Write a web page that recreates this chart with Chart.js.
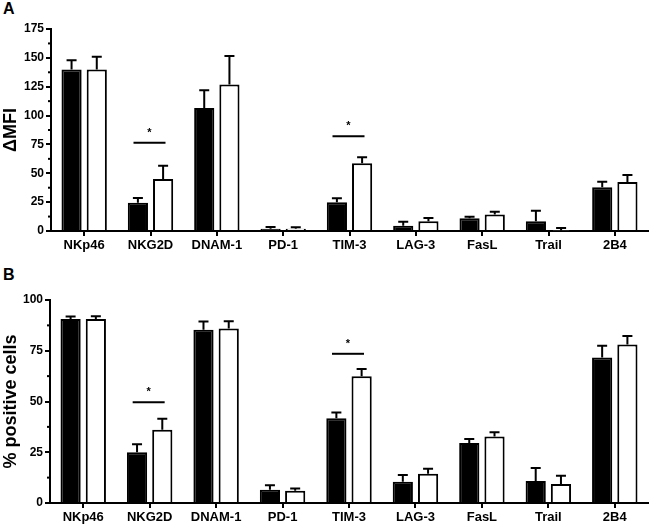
<!DOCTYPE html>
<html><head><meta charset="utf-8">
<script src="https://cdn.jsdelivr.net/npm/chart.js@4.4.0/dist/chart.umd.min.js"></script>
<style>
html,body{margin:0;padding:0;background:#fff;width:650px;height:528px;overflow:hidden;}
.wrap{position:absolute;left:0;width:650px;}
.lbl{position:absolute;left:3px;font:bold 16px "Liberation Sans",Arial,sans-serif;color:#000;}
</style></head><body>
<div class="lbl" style="top:0px">A</div>
<div class="lbl" style="top:266px">B</div>
<div class="wrap" style="top:0;height:258px"><canvas id="cA" width="650" height="258"></canvas></div>
<div class="wrap" style="top:258px;height:270px"><canvas id="cB" width="650" height="270"></canvas></div>
<script>
const categories = ['NKp46','NKG2D','DNAM-1','PD-1','TIM-3','LAG-3','FasL','Trail','2B4'];

// Panel A: ΔMFI
const mfiBlack    = [140, 24.5, 106.5, 2, 24.8, 4.6, 11, 8.4, 38];
const mfiBlackErr = [8, 4, 15.5, 1.5, 3.5, 3.4, 1.4, 9.2, 4.7];
const mfiWhite    = [140, 45, 127, 2, 58.6, 8.4, 14.4, 0.5, 42.5];
const mfiWhiteErr = [11, 11.6, 24.6, 1.2, 5.2, 2.9, 2.3, 2.1, 6];
const mfiTicks    = [0, 25, 50, 75, 100, 125, 150, 175];
const mfiSigCats  = ['NKG2D','TIM-3'];
const mfiSigLine  = [76.5, 82];

// Panel B: % positive cells
const posBlack    = [90.6, 25, 85.4, 6.5, 41.7, 10.5, 29.6, 10.8, 71.7];
const posBlackErr = [1.3, 4, 4, 2.2, 2.9, 3.3, 1.9, 6.4, 5.8];
const posWhite    = [90.6, 36.1, 85.9, 6, 62.4, 14.4, 32.8, 9.4, 78.1];
const posWhiteErr = [1.4, 5.4, 3.6, 1.2, 3.6, 2.5, 2, 4, 4.2];
const posTicks    = [0, 25, 50, 75, 100];
const posSigCats  = ['NKG2D','TIM-3'];
const posSigLine  = [49.6, 73.5];

const FONT = '"Liberation Sans", Arial, sans-serif';

const errPlugin = {
  id: 'errbars',
  afterDatasetsDraw(chart, args, opts) {
    const ctx = chart.ctx, y = chart.scales.y;
    ctx.save();
    ctx.strokeStyle = '#000'; ctx.lineWidth = 2;
    chart.data.datasets.forEach((ds, di) => {
      const meta = chart.getDatasetMeta(di);
      meta.data.forEach((bar, i) => {
        const top = y.getPixelForValue(ds.data[i]);
        const e = y.getPixelForValue(ds.data[i] + ds.err[i]);
        ctx.beginPath();
        ctx.moveTo(bar.x, top); ctx.lineTo(bar.x, e);
        ctx.moveTo(bar.x - 5, e); ctx.lineTo(bar.x + 5, e);
        ctx.stroke();
      });
    });
    ctx.restore();
  }
};

const sigPlugin = {
  id: 'sig',
  afterDraw(chart, args, opts) {
    const ctx = chart.ctx, x = chart.scales.x, y = chart.scales.y;
    ctx.save();
    ctx.strokeStyle = '#000'; ctx.lineWidth = 2; ctx.fillStyle = '#000';
    ctx.font = 'bold 11px ' + FONT; ctx.textAlign = 'center'; ctx.textBaseline = 'middle';
    opts.cats.forEach((c, k) => {
      const cx = x.getPixelForValue(categories.indexOf(c));
      const py = y.getPixelForValue(opts.vals[k]);
      ctx.beginPath(); ctx.moveTo(cx - 17, py); ctx.lineTo(cx + 15, py); ctx.stroke();
      ctx.fillText('*', cx - 1, py - 10);
    });
    // minor ticks on y axis
    const t = y.ticks;
    for (let i = 0; i < t.length - 1; i++) {
      const m = (t[i].value + t[i + 1].value) / 2;
      const py = y.getPixelForValue(m);
      ctx.beginPath(); ctx.moveTo(chart.chartArea.left, py); ctx.lineTo(chart.chartArea.left - 3, py); ctx.stroke();
    }
    ctx.restore();
  }
};

function makeChart(id, black, blackErr, white, whiteErr, ticks, max, title, sigCats, sigVals, yWidth, padTop, xHeight) {
  return new Chart(document.getElementById(id), {
    type: 'bar',
    data: {
      labels: categories,
      datasets: [
        { data: black, err: blackErr, backgroundColor: '#000', borderColor: '#000', borderWidth: 2 },
        { data: white, err: whiteErr, backgroundColor: '#fff', borderColor: '#000', borderWidth: 2 }
      ]
    },
    options: {
      responsive: false, animation: false,
      categoryPercentage: 0.76, barPercentage: 0.8,
      layout: { padding: { top: padTop, right: 2, left: 0, bottom: 0 } },
      plugins: { legend: { display: false }, tooltip: { enabled: false }, sig: { cats: sigCats, vals: sigVals } },
      scales: {
        x: {
          offset: true,
          grid: { display: true, drawOnChartArea: false, offset: false, color: '#000', lineWidth: 2, tickLength: 5 },
          border: { display: true, color: '#000', width: 2 },
          ticks: { color: '#000', font: { family: FONT, size: 13, weight: 'bold' }, padding: 2, maxRotation: 0, autoSkip: false },
          afterFit(s) { s.height = xHeight; }
        },
        y: {
          min: 0, max: max,
          afterBuildTicks(s) { s.ticks = ticks.map(v => ({ value: v })); },
          grid: { display: true, drawOnChartArea: false, color: '#000', lineWidth: 2, tickLength: 5 },
          border: { display: true, color: '#000', width: 2 },
          ticks: { color: '#000', font: { family: FONT, size: 12, weight: 'bold' }, padding: 2 },
          title: { display: true, text: title, color: '#000', font: { family: FONT, size: 18, weight: 'bold' }, padding: { top: 0, bottom: 2 } },
          afterFit(s) { s.width = yWidth; }
        }
      }
    },
    plugins: [errPlugin, sigPlugin]
  });
}

makeChart('cA', mfiBlack, mfiBlackErr, mfiWhite, mfiWhiteErr, mfiTicks, 175, 'ΔMFI', mfiSigCats, mfiSigLine, 51, 29, 27);
makeChart('cB', posBlack, posBlackErr, posWhite, posWhiteErr, posTicks, 100, '% positive cells', posSigCats, posSigLine, 50, 42, 25);
</script>
</body></html>
